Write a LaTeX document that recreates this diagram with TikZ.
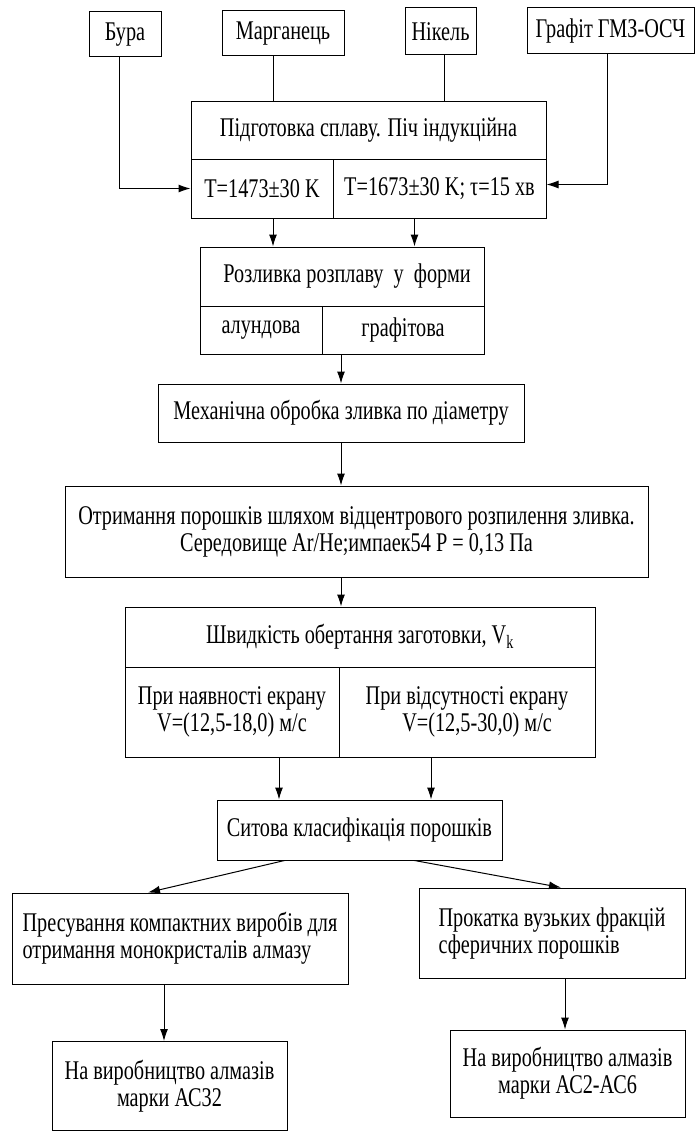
\documentclass[tikz,border=0pt]{standalone}
\usepackage{fontspec}
\setmainfont[FakeStretch=0.75]{Liberation Serif}
\usetikzlibrary{arrows.meta}

\tikzset{
  box/.style={draw, line width=1pt, inner sep=0pt, align=center,
    font=\fontsize{27}{27}\selectfont},
  link/.style={line width=1pt},
  arr/.style={link, -{Latex[length=12pt,width=8pt]}}
}

\begin{document}
\begin{tikzpicture}[x=1pt, y=-1pt]
        \useasboundingbox (0,0) rectangle (696,1132);

        % The top boxes
        \node[box, minimum width=72, minimum height=45] (bura) at (125,34.5) {Бура};
        \node[box, minimum width=122, minimum height=45] (marg) at (283,33.5) {Марганець};
        \node[box, minimum width=71, minimum height=47] (nikel) at (440.5,31.5) {Нікель};
        \node[box, minimum width=167, minimum height=46] (graf) at (610.5,31) {Графіт ГМЗ-ОСЧ};

        % The furnace
        \node[box, minimum width=355, minimum height=58] (prep) at (368.5,130) {Підготовка сплаву. Піч індукційна};
        \node[box, minimum width=142, minimum height=59] (prepA) at (262,188.5) {T=1473±30 K};
        \node[box, minimum width=213, minimum height=59] (prepB) at (439.5,188.5) {T=1673±30 K; τ=15 хв};

        % Casting
        \node[box, minimum width=284, minimum height=59] (rozl) at (342,276.5) {\ \ Розливка розплаву\ \ у\ \ форми};
        \node[box, minimum width=122, minimum height=48] (rozlA) at (261,330) {алундова};
        \node[box, minimum width=162, minimum height=48] (rozlB) at (403,330) {графітова};

        % Middle boxes
        \node[box, minimum width=366, minimum height=58] (mech) at (341,413) {Механічна обробка зливка по діаметру};
        \node[box, minimum width=583, minimum height=91] (otr) at (356.5,531.5)
            {Отримання порошків шляхом відцентрового розпилення зливка.\\
             Середовище Ar/He;импаек54 P = 0,13 Па};

        % Speed
        \node[box, minimum width=470, minimum height=60] (shv) at (360,637) {Швидкість обертання заготовки, V\textsubscript{k}};
        \node[box, minimum width=214, minimum height=90] (shvA) at (232,712) {При наявності екрану\\V=(12,5-18,0) м/с};
        \node[box, minimum width=256, minimum height=90] (shvB) at (467,712) {При відсутності екрану\\\ \ \ \ V=(12,5-30,0) м/с};

        % Sieving
        \node[box, minimum width=285, minimum height=60] (sit) at (359.5,830) {Ситова класифікація порошків};

        % Bottom boxes
        \node[box, minimum width=336, minimum height=91, align=left] (press) at (180,938.5)
            {Пресування компактних виробів для\\отримання монокристалів алмазу};
        \node[box, minimum width=266, minimum height=90, align=left] (prok) at (552,933)
            {Прокатка вузьких фракцій\\сферичних порошків\hspace{45pt}};
        \node[box, minimum width=235, minimum height=89] (ac32) at (169.5,1086) {На виробництво алмазів\\марки АС32};
        \node[box, minimum width=235, minimum height=87] (ac26) at (567.5,1073.5) {На виробництво алмазів\\марки АС2-АС6};

        % Top edges
        \draw[arr] ([xshift=-6]bura.south) |- (prepA.west);
        \draw[link] ([xshift=-10]marg.south) -- ([xshift=-10]marg.south |- prep.north);
        \draw[link] ([xshift=4]nikel.south) -- ([xshift=4]nikel.south |- prep.north);
        \draw[arr] ([xshift=-3]graf.south) |- ([yshift=4]prepB.east);

        % Middle edges
        \draw[arr] ([xshift=11]prepA.south) -- ([xshift=11]prepA.south |- rozl.north);
        \draw[arr] ([xshift=-25]prepB.south) -- ([xshift=-25]prepB.south |- rozl.north);
        \draw[arr] (rozlB.south -| mech.north) -- (mech.north);
        \draw[arr] (mech.south) -- (mech.south |- otr.north);
        \draw[arr] (otr.south -| mech.south) -- (shv.north -| mech.south);
        \draw[arr] ([xshift=47]shvA.south) -- ([xshift=47]shvA.south |- sit.north);
        \draw[arr] ([xshift=-36]shvB.south) -- ([xshift=-36]shvB.south |- sit.north);

        % Bottom edges
        \draw[arr] ([xshift=-75]sit.south) -- ([xshift=-32]press.north);
        \draw[arr] ([xshift=55]sit.south) -- ([xshift=9]prok.north);
        \draw[arr] ([xshift=-16]press.south) -- ([xshift=-16]press.south |- ac32.north);
        \draw[arr] ([xshift=13]prok.south) -- ([xshift=13]prok.south |- ac26.north);

\end{tikzpicture}
\end{document}
